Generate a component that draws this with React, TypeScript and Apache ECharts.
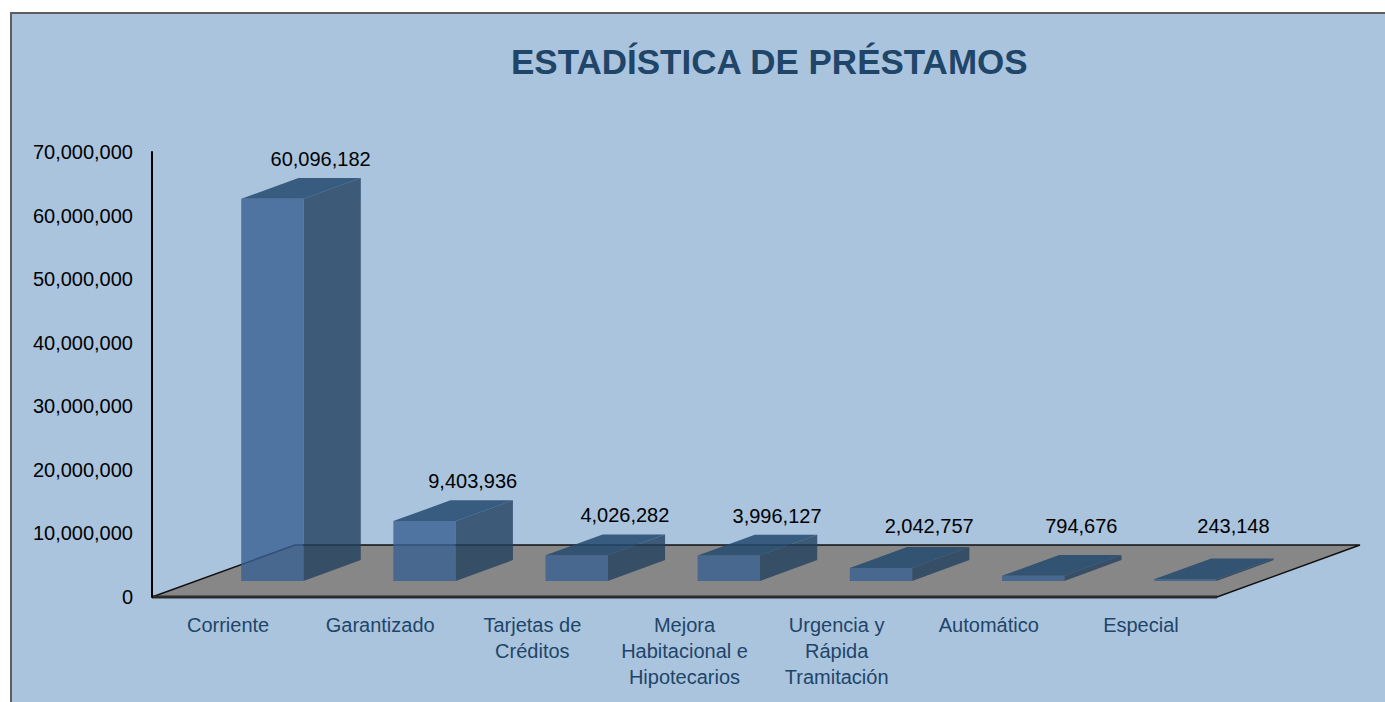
import React, { useEffect, useRef } from "react";
import * as echarts from "echarts";

const TITLE = "ESTADÍSTICA DE PRÉSTAMOS";
const categories = [
  "Corriente",
  "Garantizado",
  "Tarjetas de\nCréditos",
  "Mejora\nHabitacional e\nHipotecarios",
  "Urgencia y\nRápida\nTramitación",
  "Automático",
  "Especial",
];
const values = [60096182, 9403936, 4026282, 3996127, 2042757, 794676, 243148];
const yMin = 0;
const yMax = 70000000;
const yInterval = 10000000;

const FONT = "'Liberation Sans', Arial, sans-serif";
const FLOOR_DX = 143;
const FLOOR_DY = 52;

const fmt = (v: number) => Math.round(v).toLocaleString("en-US");

export default function App() {
  const ref = useRef<HTMLDivElement>(null);
  useEffect(() => {
    if (!ref.current) return;
    const chart = echarts.init(ref.current, null, { renderer: "svg" });
    const barData = values.map((v, i) => [i, v]);
    chart.setOption({
      animation: false,
      backgroundColor: "transparent",
      title: {
        text: TITLE,
        left: 511,
        top: 44,
        padding: 0,
        textStyle: { fontFamily: FONT, fontWeight: "bold", fontSize: 35, color: "#1F4568" },
      },
      grid: { left: 152, right: 168, top: 152, bottom: 105, containLabel: false },
      xAxis: {
        type: "category",
        data: categories,
        axisLine: { show: false },
        axisTick: { show: false },
        splitLine: { show: false },
        axisLabel: {
          interval: 0,
          margin: 15,
          fontFamily: "'Liberation Sans Narrow', 'Liberation Sans', Arial, sans-serif",
          fontSize: 20,
          lineHeight: 26,
          color: "#1F4568",
          align: "center",
        },
      },
      yAxis: {
        type: "value",
        min: yMin,
        max: yMax,
        interval: yInterval,
        z: 10,
        axisLine: { show: true, lineStyle: { color: "#000", width: 2 } },
        axisTick: { show: false },
        splitLine: { show: false },
        axisLabel: {
          margin: 19,
          fontFamily: FONT,
          fontSize: 20,
          color: "#000",
          formatter: (v: number) => fmt(v),
        },
      },
      series: [
        {
          type: "custom",
          data: [[0]],
          z: 1,
          silent: true,
          renderItem: (params: any) => {
            const cs = params.coordSys;
            const x0 = cs.x;
            const x1 = cs.x + cs.width;
            const y0 = cs.y + cs.height;
            return {
              type: "group",
              children: [
                {
                  type: "polygon",
                  shape: {
                    points: [
                      [x0, y0],
                      [x1, y0],
                      [x1 + FLOOR_DX, y0 - FLOOR_DY],
                      [x0 + FLOOR_DX, y0 - FLOOR_DY],
                    ],
                  },
                  style: { fill: "#878787", stroke: "#111", lineWidth: 1.5 },
                },
                {
                  type: "line",
                  shape: { x1: x0, y1: y0, x2: x1, y2: y0 },
                  style: { stroke: "#2a2a2a", lineWidth: 3 },
                },
              ],
            };
          },
        },
        {
          type: "custom",
          data: barData,
          z: 3,
          encode: { x: 0, y: 1 },
          renderItem: (params: any, api: any) => {
            const i = api.value(0);
            const v = api.value(1);
            const p0 = api.coord([i, 0]);
            const p1 = api.coord([i, v]);
            const band = api.size([1, 0])[0];
            const w = band * 0.41;
            const fdx = FLOOR_DX * 0.31;
            const fdy = FLOOR_DY * 0.31;
            const bdx = FLOOR_DX * 0.4;
            const bdy = FLOOR_DY * 0.4;
            const xL = p0[0] + fdx - w / 2;
            const xR = xL + w;
            const yB = p0[1] - fdy;
            const yT = p1[1] - fdy;
            const backTop = yT - bdy;
            const floorBack = p0[1] - FLOOR_DY;
            const labelBottom = Math.min(backTop, floorBack) - 9;
            const labelX = xL + w / 2 + bdx - 9;
            return {
              type: "group",
              children: [
                {
                  type: "rect",
                  shape: { x: xL, y: yT, width: w, height: Math.max(yB - yT, 0) },
                  style: { fill: "rgba(56,96,145,0.8)" },
                },
                {
                  type: "polygon",
                  shape: {
                    points: [
                      [xR, yB],
                      [xR, yT],
                      [xR + bdx, yT - bdy],
                      [xR + bdx, yB - bdy],
                    ],
                  },
                  style: { fill: "rgba(35,64,95,0.8)" },
                },
                {
                  type: "polygon",
                  shape: {
                    points: [
                      [xL, yT],
                      [xR, yT],
                      [xR + bdx, yT - bdy],
                      [xL + bdx, yT - bdy],
                    ],
                  },
                  style: { fill: "rgba(36,74,111,0.85)" },
                },
                {
                  type: "text",
                  style: {
                    text: fmt(v),
                    x: labelX,
                    y: labelBottom,
                    align: "center",
                    verticalAlign: "bottom",
                    fontFamily: FONT,
                    fontSize: 20,
                    fill: "#000",
                  },
                },
              ],
            };
          },
        },
      ],
    });
    return () => chart.dispose();
  }, []);

  return (
    <div style={{ position: "fixed", left: 0, top: 0, width: 1385, height: 702, background: "#fff", overflow: "hidden" }}>
      <div
        style={{
          position: "absolute",
          left: 10,
          top: 12,
          width: 1380,
          height: 700,
          background: "#AAC4DE",
          borderTop: "2px solid #5E5E5E",
          borderLeft: "2px solid #5E5E5E",
        }}
      />
      <div ref={ref} style={{ position: "absolute", left: 0, top: 0, width: 1385, height: 702 }} />
    </div>
  );
}
